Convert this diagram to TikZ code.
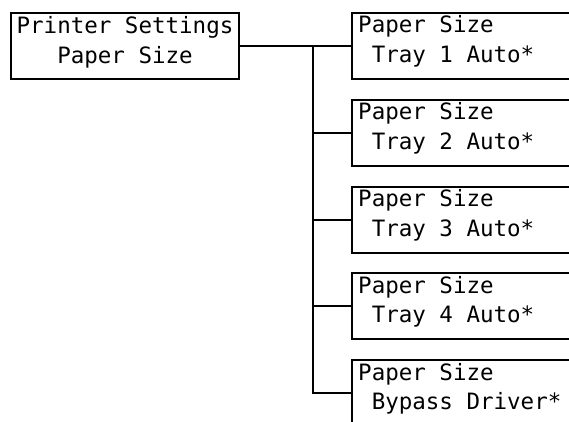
\documentclass[tikz,border=0pt]{standalone}
\usepackage{fontspec}
\setmonofont{DejaVu Sans Mono}
\usetikzlibrary{calc}
\begin{document}
\begin{tikzpicture}[x=1pt,y=-1pt,
  box/.style={draw, line width=2pt, rectangle, inner sep=0pt, anchor=north west, minimum height=66pt},
  lbl/.style={font=\ttfamily\fontsize{22.5}{27}\selectfont, inner sep=0pt},
  wire/.style={line width=2pt}]
\useasboundingbox (0,0) rectangle (569,422);
\clip (0,0) rectangle (569,422);
\fill[white] (0,0) rectangle (569,422);
% left box
\node[box, minimum width=228pt] (L) at (10,12) {};
\node[lbl, anchor=base] (L1) at ($(L.north)+(0,22)$) {Printer Settings};
\node[lbl, anchor=base] (L2) at ($(L.north)+(0,52)$) {Paper Size};
% right boxes
\foreach \i/\t in {1/Tray 1 Auto*,2/Tray 2 Auto*,3/Tray 3 Auto*,4/Tray 4 Auto*,5/Bypass Driver*}{
  \node[box, minimum width=260pt] (R\i) at (351,{12+86.8*(\i-1)}) {};
  \node[lbl, anchor=base west] (R\i a) at ($(R\i.north west)+(7,21)$) {Paper Size};
  \node[lbl, anchor=base west] (R\i b) at ($(R\i.north west)+(7,50.5)$) {\phantom{x}\t};
}
% connectors
\coordinate (J) at (313,45);
\draw[wire] (L.east) -- (R1.west);
\draw[wire] (J) |- (R5.west);
\foreach \i in {2,3,4}{
  \draw[wire] (J |- R\i.west) -- (R\i.west);
}
\end{tikzpicture}
\end{document}
